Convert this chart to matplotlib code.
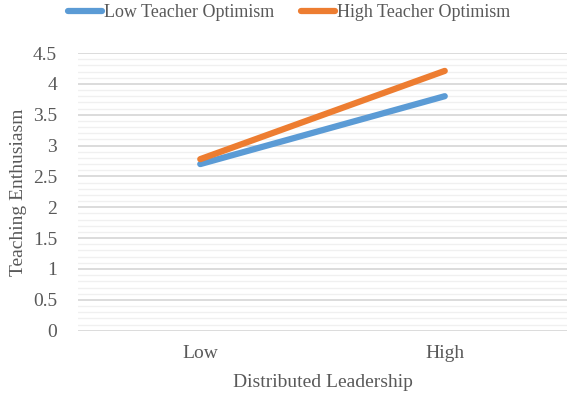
import matplotlib
matplotlib.use("Agg")
import matplotlib.pyplot as plt
import numpy as np

categories = ["Low", "High"]
low_opt = [2.70, 3.80]
high_opt = [2.78, 4.21]
series_names = ["Low Teacher Optimism", "High Teacher Optimism"]
colors = ["#5B9BD5", "#ED7D31"]
yticks = [0, 0.5, 1, 1.5, 2, 2.5, 3, 3.5, 4, 4.5]
ytick_labels = ["0", "0.5", "1", "1.5", "2", "2.5", "3", "3.5", "4", "4.5"]

plt.rcParams['font.family'] = ['Liberation Serif', 'DejaVu Serif']
txt = "#595959"

fig = plt.figure(figsize=(5.69, 4.0), dpi=100)
ax = fig.add_axes([78/569, 1 - 330.7/400, (567-78)/569, (330.7-53)/400])

x = np.arange(len(categories))
for vals, name, c in zip([low_opt, high_opt], series_names, colors):
    ax.plot(x, vals, color=c, lw=4.5, solid_capstyle='round', label=name, zorder=3)

ax.set_xlim(-0.5, 1.5)
ax.set_ylim(0, 4.5)
ax.set_yticks(yticks)
ax.set_yticklabels(ytick_labels)
ax.set_yticks(np.arange(0, 4.5001, 0.1), minor=True)
ax.set_xticks(x)
ax.set_xticklabels(categories)
ax.grid(axis='y', which='major', color='#D9D9D9', lw=1.3, zorder=0)
ax.grid(axis='y', which='minor', color='#F0F0F0', lw=1.0, zorder=0)
for s in ax.spines.values():
    s.set_visible(False)
ax.tick_params(axis='both', which='both', length=0, labelsize=14, colors=txt)
ax.tick_params(axis='x', pad=10)
ax.tick_params(axis='y', pad=15)
ax.set_ylabel("Teaching Enthusiasm", fontsize=14, color=txt, labelpad=4)
ax.set_xlabel("Distributed Leadership", fontsize=14, color=txt, labelpad=9)

fig.legend(loc='upper center', bbox_to_anchor=(0.508, 1.03), ncol=2, frameon=False,
           fontsize=13, labelcolor=txt, handlelength=1.9, handletextpad=0.1,
           columnspacing=1.5)

fig.savefig("out.png", dpi=100)
